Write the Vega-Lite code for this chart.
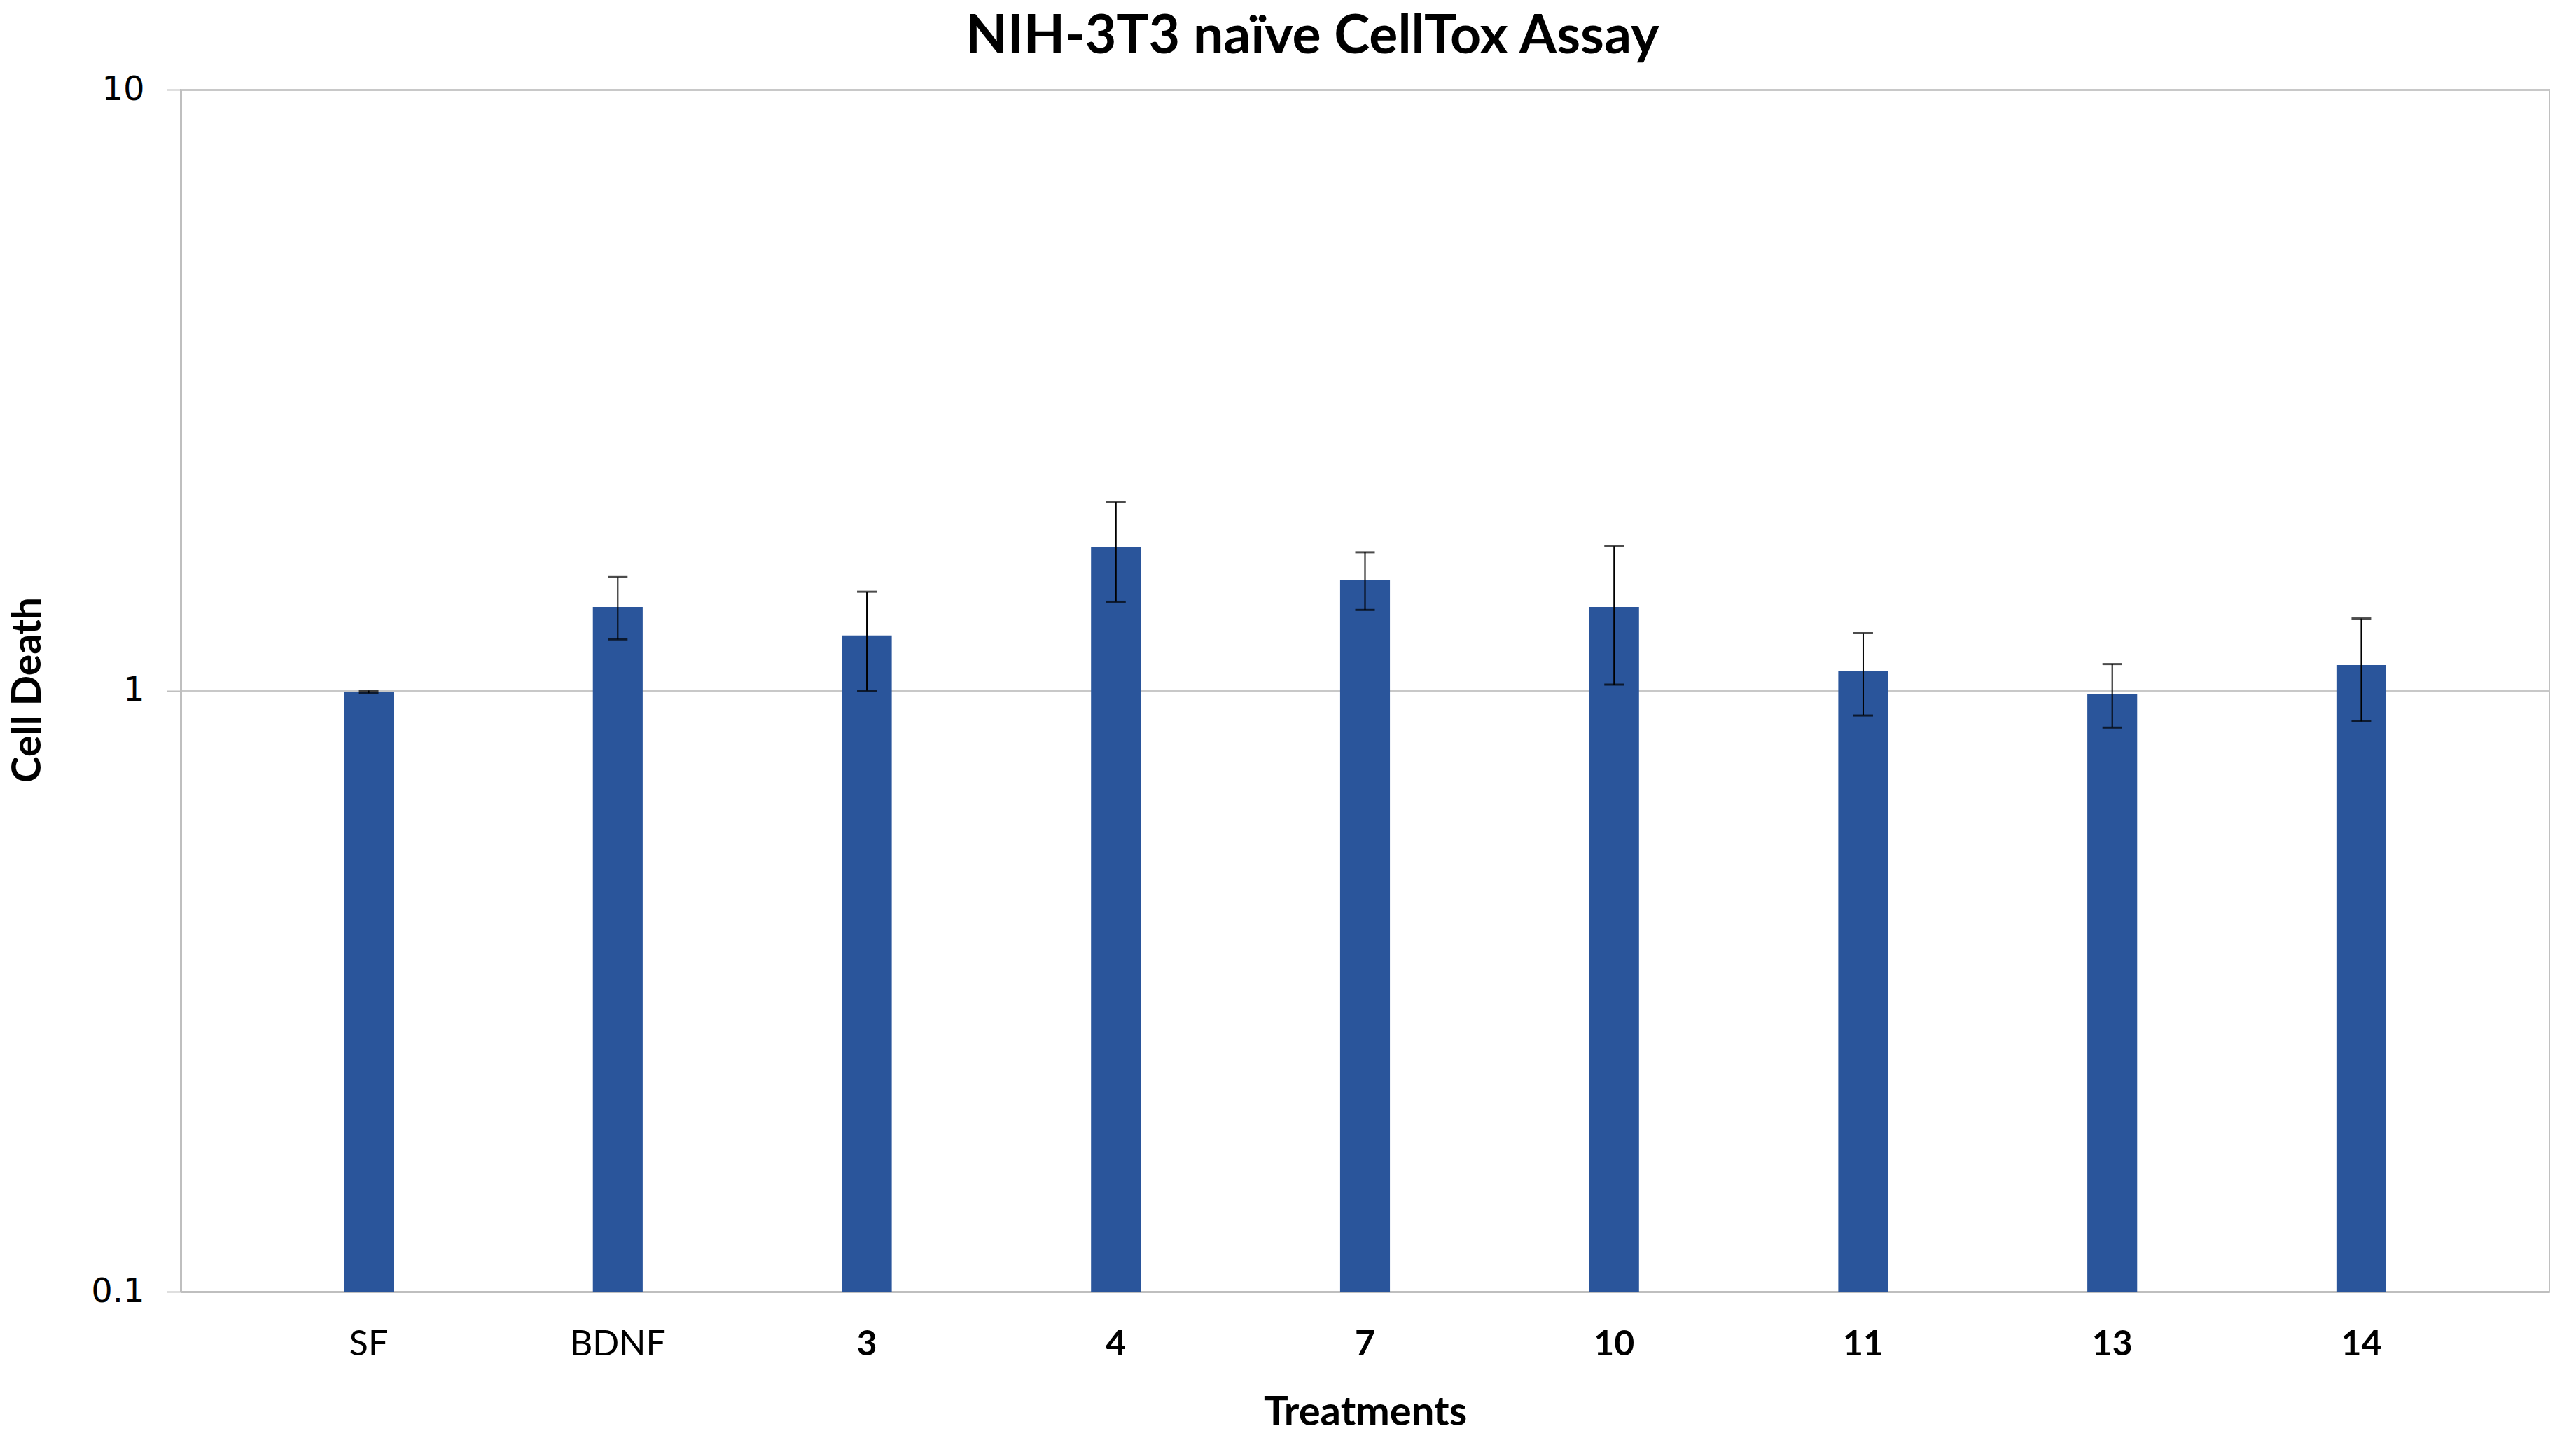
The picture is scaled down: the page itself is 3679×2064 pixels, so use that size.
{
  "$schema": "https://vega.github.io/schema/vega-lite/v6.json",
  "width": 3383,
  "height": 1717,
  "autosize": {"type": "none"},
  "padding": {"left": 258, "top": 128, "right": 38, "bottom": 219},
  "background": "white",
  "title": {"text": "NIH-3T3 naïve CellTox Assay", "font": "Lato", "fontSize": 77, "fontWeight": "bold", "color": "#000000", "offset": 12, "anchor": "middle", "dx": -75},
  "config": {"view": {"stroke": "#C0C0C0", "strokeWidth": 2}},
  "data": {"values": [
    {"treatment": "SF", "mean": 0.995, "lo": 0.99, "hi": 1.0},
    {"treatment": "BDNF", "mean": 1.378, "lo": 1.217, "hi": 1.545},
    {"treatment": "3", "mean": 1.235, "lo": 1.0, "hi": 1.461},
    {"treatment": "4", "mean": 1.731, "lo": 1.406, "hi": 2.06},
    {"treatment": "7", "mean": 1.526, "lo": 1.362, "hi": 1.699},
    {"treatment": "10", "mean": 1.378, "lo": 1.023, "hi": 1.739},
    {"treatment": "11", "mean": 1.078, "lo": 0.909, "hi": 1.246},
    {"treatment": "13", "mean": 0.986, "lo": 0.868, "hi": 1.107},
    {"treatment": "14", "mean": 1.103, "lo": 0.889, "hi": 1.318}
  ]},
  "encoding": {
    "x": {
      "field": "treatment", "type": "nominal", "sort": null,
      "scale": {"paddingInner": 0.8, "paddingOuter": 0.655},
      "axis": {
        "title": "Treatments", "titleFont": "Lato", "titleFontSize": 58, "titleFontWeight": "bold", "titleColor": "#000000",
        "titleY": 173, "titleBaseline": "middle",
        "labelFont": "Lato", "labelFontSize": 50, "labelColor": "#000000", "labelAngle": 0,
        "labelFontWeight": {"expr": "datum.label == 'SF' || datum.label == 'BDNF' ? 'normal' : 'bold'"},
        "labelPadding": 50, "ticks": false,
        "domainColor": "#BFBFBF", "domainWidth": 3
      }
    }
  },
  "layer": [
    {
      "mark": {"type": "bar", "color": "#2A559B"},
      "encoding": {
        "y": {
          "field": "mean", "type": "quantitative",
          "scale": {"type": "log", "domain": [0.1, 10], "nice": false},
          "axis": {
            "title": "Cell Death", "titleFont": "Lato", "titleFontSize": 57, "titleFontWeight": "bold", "titleColor": "#000000",
            "titleX": -218, "titleY": 857, "titleBaseline": "middle",
            "values": [0.1, 1, 10],
            "labelExpr": "datum.value == 0.1 ? '0.1' : datum.value == 1 ? '1' : '10'",
            "labelFont": "DejaVu Sans", "labelFontSize": 48, "labelColor": "#000000", "labelPadding": 32,
            "tickSize": 20, "tickColor": "#BFBFBF", "tickWidth": 2,
            "grid": true, "gridColor": "#C8C8C8", "gridWidth": 3,
            "domainColor": "#BFBFBF", "domainWidth": 3
          }
        },
        "y2": {"datum": 0.1}
      }
    },
    {
      "mark": {"type": "rule", "color": "#000000", "strokeWidth": 2},
      "encoding": {"y": {"field": "lo", "type": "quantitative"}, "y2": {"field": "hi"}}
    },
    {
      "mark": {"type": "tick", "color": "#000000", "thickness": 3, "size": 28},
      "encoding": {"y": {"field": "hi", "type": "quantitative"}}
    },
    {
      "mark": {"type": "tick", "color": "#000000", "thickness": 3, "size": 28},
      "encoding": {"y": {"field": "lo", "type": "quantitative"}}
    }
  ]
}
